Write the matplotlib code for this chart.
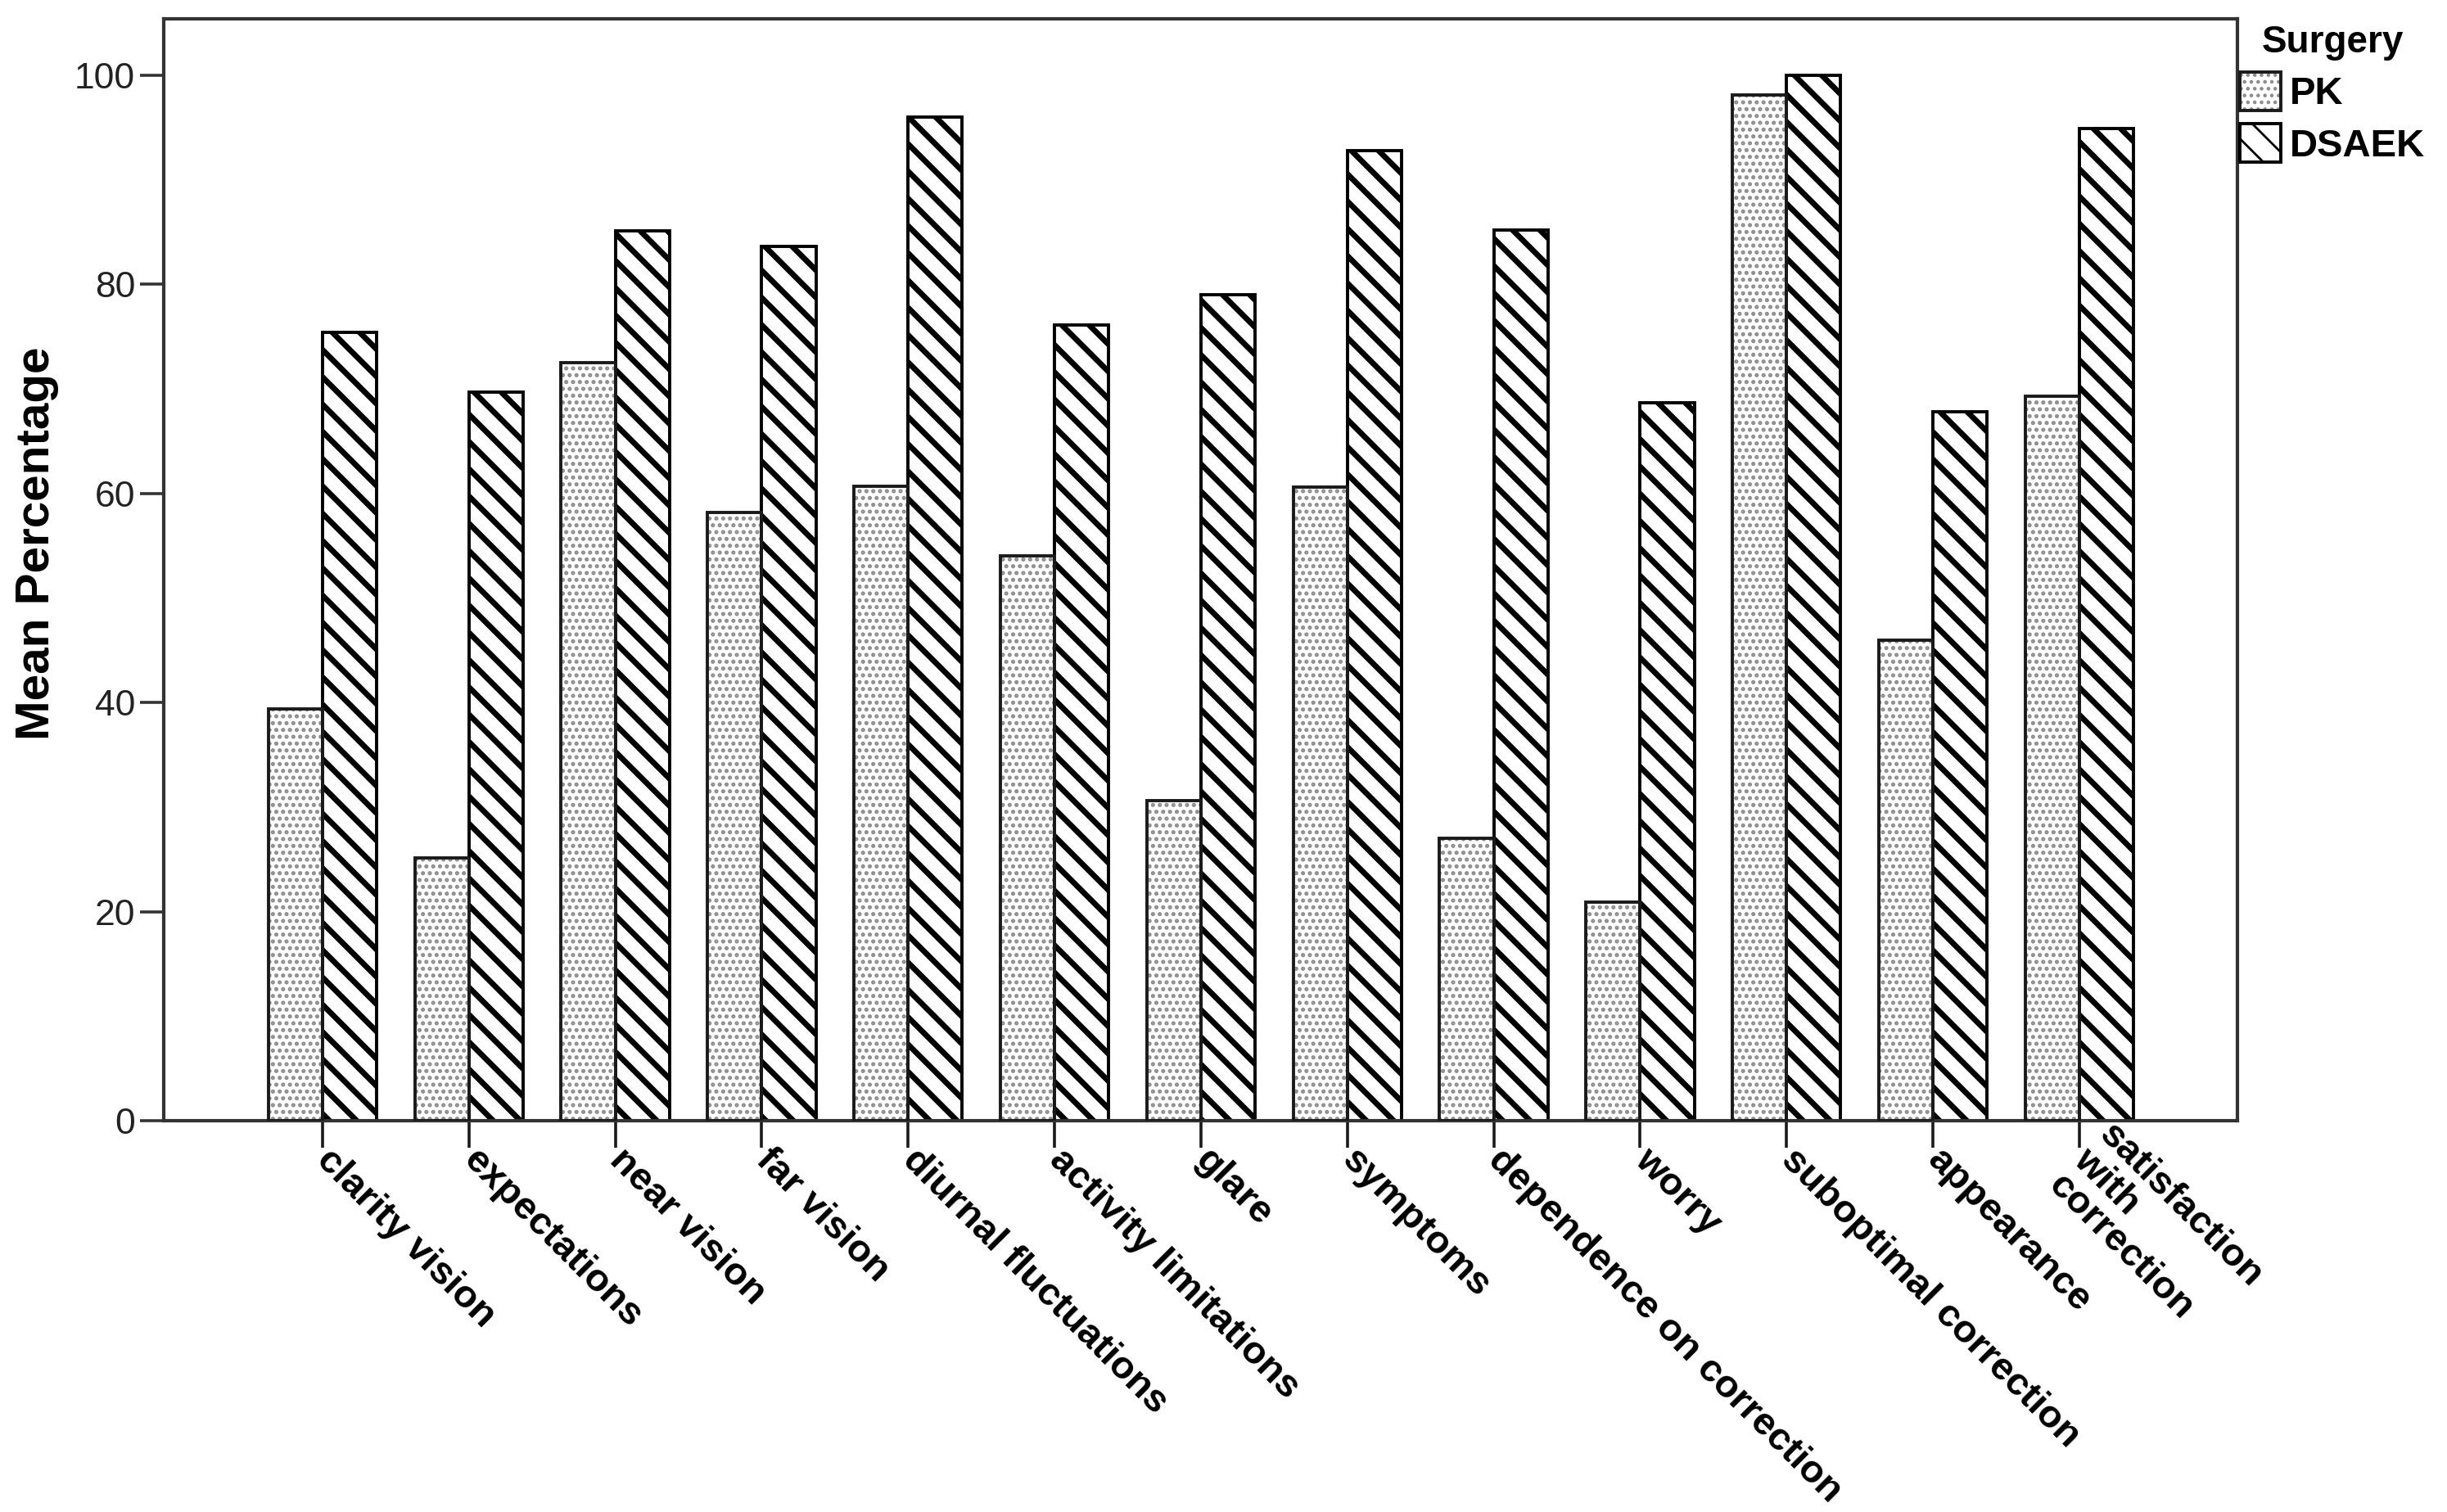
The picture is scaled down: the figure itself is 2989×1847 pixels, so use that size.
import matplotlib
matplotlib.use("Agg")
import matplotlib.pyplot as plt
import numpy as np
from matplotlib.legend_handler import HandlerTuple

categories = ["clarity vision", "expectations", "near vision", "far vision",
              "diurnal fluctuations", "activity limitations", "glare", "symptoms",
              "dependence on correction", "worry", "suboptimal correction",
              "appearance", "satisfaction\nwith\ncorrection"]
pk_values = [39.4, 25.1, 72.5, 58.2, 60.7, 54.0, 30.6, 60.6, 27.0, 20.9, 98.1, 46.0, 69.3]
dsaek_values = [75.4, 69.7, 85.1, 83.6, 96.0, 76.1, 79.0, 92.8, 85.2, 68.7, 100.0, 67.8, 94.9]
yticks = [0, 20, 40, 60, 80, 100]
series_names = ["PK", "DSAEK"]

plt.rcParams['font.family'] = ['Liberation Sans', 'DejaVu Sans']

fig = plt.figure(figsize=(14.945, 9.235), dpi=200)
ax = fig.add_axes([0.0669, 0.2588, 0.9144 - 0.0669, 0.9875 - 0.2588])

x = np.arange(len(categories))
w = 0.37

def set_hlw(container, lw):
    for p in container.patches:
        if hasattr(p, "set_hatch_linewidth"):
            p.set_hatch_linewidth(lw)

with plt.rc_context({'hatch.linewidth': 1.2}):
    pk_fill = ax.bar(x - w / 2, pk_values, width=w, facecolor='white',
                     edgecolor='#8a8a8a', linewidth=0, hatch='....', zorder=2)
set_hlw(pk_fill, 1.2)
pk_edge = ax.bar(x - w / 2, pk_values, width=w, facecolor='none',
                 edgecolor='#1a1a1a', linewidth=1.4, zorder=3)

with plt.rc_context({'hatch.linewidth': 2.5}):
    ds = ax.bar(x + w / 2, dsaek_values, width=w, facecolor='white',
                edgecolor='black', linewidth=1.4, hatch='\\\\', zorder=2)
set_hlw(ds, 2.5)

ax.set_xlim(-1.084, 13.08)
ax.set_ylim(0, 105.4)
ax.set_yticks(yticks)
ax.set_yticklabels([str(t) for t in yticks], fontsize=16, color='#222222')
ax.set_xticks(x)
ax.set_xticklabels(categories, fontsize=17, fontweight='bold', rotation=-45,
                   rotation_mode='anchor', ha='left', va='center',
                   multialignment='left', linespacing=1.0)
ax.tick_params(axis='x', length=12, width=1.3, pad=3, color='#1a1a1a')
ax.tick_params(axis='y', length=10.5, width=1.3, pad=2, color='#333333')
for s in ax.spines.values():
    s.set_linewidth(1.5)
    s.set_color('#333333')

ax.set_ylabel("Mean Percentage", fontsize=21, fontweight='bold')
ax.yaxis.set_label_coords(-0.0505, 0.524)

leg = ax.legend([(pk_fill, pk_edge), ds], series_names,
                handler_map={tuple: HandlerTuple(ndivide=1, pad=0)},
                title="Surgery", loc='upper left',
                bbox_to_anchor=(0.9155, 0.984), bbox_transform=fig.transFigure,
                frameon=False, borderpad=0, borderaxespad=0,
                handlelength=1.05, handleheight=1.15, handletextpad=0.23,
                labelspacing=0.3, prop={'size': 17, 'weight': 'bold'},
                title_fontproperties={'size': 16.5, 'weight': 'bold'})

fig.savefig("out.png", dpi=200)
